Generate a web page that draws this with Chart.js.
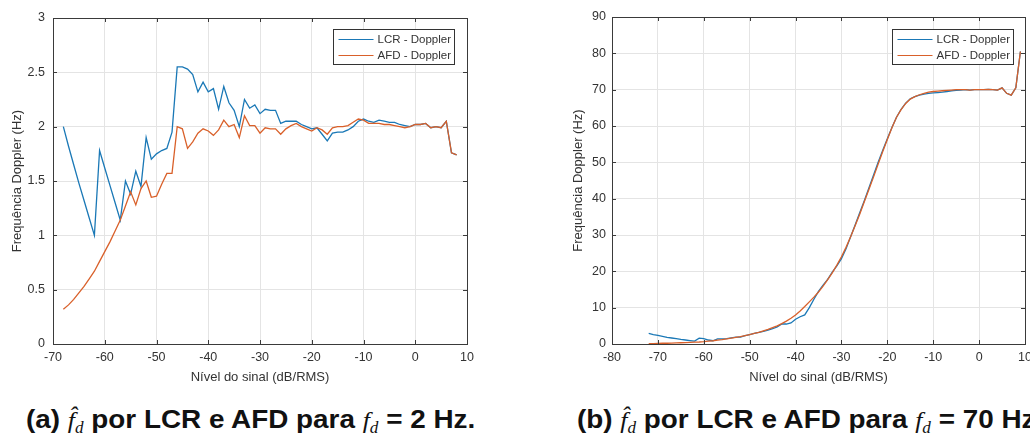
<!DOCTYPE html>
<html>
<head>
<meta charset="utf-8">
<script src="https://cdn.jsdelivr.net/npm/chart.js@4"></script>
<style>
  html, body { margin: 0; padding: 0; background: #fff; }
  body { width: 1030px; height: 433px; overflow: hidden; position: relative; }
  canvas { position: absolute; top: 0; }
  #cA { left: 0; }
  #cB { left: 540px; }
  .cap {
    position: absolute; top: 406px; white-space: nowrap;
    font: bold 26px/26px "Liberation Sans", Arial, sans-serif; color: #111;
    transform-origin: 0 0;
  }
  .m { font: italic normal 24px/26px "Liberation Serif", "DejaVu Serif", serif; }
  .m sub { font-size: 16px; vertical-align: -5px; line-height: 0; }
  #capA { left: 26px; }
  #capB { left: 577px; }
</style>
</head>
<body>
<canvas id="cA" width="490" height="392"></canvas>
<canvas id="cB" width="500" height="392"></canvas>
<div class="cap" id="capA">(a) <span class="m">f&#770;<sub>d</sub></span> por LCR e AFD para <span class="m">f<sub>d</sub></span> = 2 Hz.</div>
<div class="cap" id="capB">(b) <span class="m">f&#770;<sub>d</sub></span> por LCR e AFD para <span class="m">f<sub>d</sub></span> = 70 Hz.</div>
<script>
// (a) fd = 2 Hz
const levelA = [-68,-67,-66,-65,-64,-63,-62,-61,-60,-59,-58,-57,-56,-55,-54,-53,-52,-51,-50,-49,
  -48,-47,-46,-45,-44,-43,-42,-41,-40,-39,-38,-37,-36,-35,-34,-33,-32,-31,-30,-29,
  -28,-27,-26,-25,-24,-23,-22,-21,-20,-19,-18,-17,-16,-15,-14,-13,-12,-11,-10,-9,
  -8,-7,-6,-5,-4,-3,-2,-1,0,1,2,3,4,5,6,7,8];
const lcrA = [2.00,1.82,1.65,1.48,1.32,1.16,1.00,1.78,1.62,1.46,1.30,1.14,1.50,1.38,1.59,1.45,1.90,1.70,1.75,1.78,
  1.80,1.95,2.55,2.55,2.53,2.48,2.32,2.41,2.32,2.35,2.16,2.37,2.22,2.15,2.00,2.25,2.17,2.20,2.12,2.16,
  2.15,2.15,2.03,2.05,2.05,2.05,2.02,2.00,1.98,1.99,1.93,1.87,1.94,1.95,1.95,1.97,2.00,2.05,2.07,2.05,
  2.04,2.06,2.05,2.04,2.04,2.02,2.01,2.00,2.02,2.02,2.03,1.99,2.00,1.99,2.05,1.76,1.74];
const afdA = [0.32,0.36,0.41,0.47,0.53,0.60,0.67,0.76,0.85,0.94,1.04,1.14,1.27,1.40,1.28,1.43,1.50,1.35,1.36,1.47,
  1.57,1.57,2.00,1.98,1.80,1.86,1.94,1.98,1.96,1.92,1.97,2.06,2.00,2.02,1.90,2.10,2.01,2.01,1.94,1.99,
  1.98,1.98,1.93,1.98,2.01,2.03,2.00,1.98,1.96,1.99,1.97,1.93,1.99,2.00,2.00,2.01,2.04,2.07,2.06,2.03,
  2.03,2.03,2.02,2.02,2.01,2.00,1.99,2.00,2.02,2.02,2.03,1.99,2.00,1.99,2.05,1.76,1.74];

// (b) fd = 70 Hz
const levelB = [-72,-71,-70,-69,-68,-67,-66,-65,-64,-63,-62,-61,-60,-59,-58,-57,-56,-55,-54,-53,
  -52,-51,-50,-49,-48,-47,-46,-45,-44,-43,-42,-41,-40,-39,-38,-37,-36,-35,-34,-33,
  -32,-31,-30,-29,-28,-27,-26,-25,-24,-23,-22,-21,-20,-19,-18,-17,-16,-15,-14,-13,
  -12,-11,-10,-9,-8,-7,-6,-5,-4,-3,-2,-1,0,1,2,3,4,5,6,7,8,9];
const lcrB = [2.9,2.6,2.35,2.1,1.85,1.65,1.45,1.25,1.1,0.95,0.8,1.6,1.5,1.1,0.9,1.4,1.4,1.5,1.7,1.9,
  1.9,2.3,2.6,2.9,3.2,3.5,3.8,4.2,4.7,5.5,5.5,5.8,6.8,7.5,8.0,10.0,12.3,14.5,16.2,17.8,
  19.8,21.5,23.5,26.2,29.5,32.8,36.2,39.5,43.0,46.5,50.0,53.3,56.5,59.6,62.4,64.6,66.3,67.5,68.1,68.5,
  68.8,69.0,69.1,69.2,69.3,69.5,69.7,69.8,69.9,70.0,69.9,70.0,70.0,70.0,70.1,70.0,69.9,70.5,69.0,68.5,70.5,80.5];
const afdB = [0.1,0.1,0.15,0.2,0.2,0.25,0.3,0.35,0.4,0.45,0.5,0.55,0.65,0.8,0.9,1.05,1.2,1.4,1.6,1.8,
  2.0,2.3,2.6,2.9,3.2,3.6,4.0,4.5,5.0,5.6,6.3,7.1,8.0,9.1,10.3,11.6,12.9,14.3,15.9,17.7,
  19.6,21.7,24.0,26.6,29.5,32.6,35.8,39.2,42.6,46.0,49.5,53.0,56.3,59.5,62.4,64.5,66.2,67.4,68.1,68.6,
  69.0,69.3,69.5,69.6,69.7,69.8,69.9,70.0,70.0,70.0,69.9,70.0,70.0,70.0,70.1,70.0,69.9,70.5,69.0,68.5,70.5,80.5];

const seriesNames = ['LCR - Doppler', 'AFD - Doppler'];
const seriesColors = ['#1a78b6', '#d9602a'];
const FONT = '"Liberation Sans", Arial, sans-serif';
const INK = '#333333';

function pts(xs, ys) { return xs.map((x, i) => ({x: x, y: ys[i]})); }

// box round the axes, MATLAB style inward ticks
const frame = {
  id: 'frame',
  afterDraw(chart) {
    const {ctx, chartArea: a, scales: {x, y}} = chart;
    ctx.save();
    ctx.strokeStyle = '#3a3a3a';
    ctx.lineWidth = 1;
    ctx.beginPath();
    x.ticks.forEach(t => {
      const px = Math.round(x.getPixelForValue(t.value)) + 0.5;
      ctx.moveTo(px, a.bottom); ctx.lineTo(px, a.bottom - 4);
      ctx.moveTo(px, a.top); ctx.lineTo(px, a.top + 4);
    });
    y.ticks.forEach(t => {
      const py = Math.round(y.getPixelForValue(t.value)) + 0.5;
      ctx.moveTo(a.left, py); ctx.lineTo(a.left + 4, py);
      ctx.moveTo(a.right, py); ctx.lineTo(a.right - 4, py);
    });
    ctx.stroke();
    ctx.strokeRect(Math.round(a.left) + 0.5, Math.round(a.top) + 0.5,
      Math.round(a.right - a.left), Math.round(a.bottom - a.top));
    ctx.restore();
  }
};

// legend box in the top right corner of the axes
const boxLegend = {
  id: 'boxLegend',
  afterDraw(chart, args, opts) {
    const {ctx, chartArea: a} = chart;
    const w = 121, h = 35;
    const left = Math.round(a.right - opts.right - w) + 0.5;
    const top = Math.round(a.top + opts.top) + 0.5;
    ctx.save();
    ctx.fillStyle = '#fff';
    ctx.fillRect(left, top, w, h);
    ctx.strokeStyle = '#333';
    ctx.lineWidth = 1;
    ctx.strokeRect(left, top, w, h);
    ctx.font = '11.5px ' + FONT;
    ctx.textBaseline = 'middle';
    ctx.fillStyle = INK;
    chart.data.datasets.forEach((ds, i) => {
      const yy = top + 10 + i * 16;
      ctx.strokeStyle = ds.borderColor;
      ctx.lineWidth = 1.2;
      ctx.beginPath();
      ctx.moveTo(left + 5, yy); ctx.lineTo(left + 40, yy);
      ctx.stroke();
      ctx.fillText(ds.label, left + 44, yy + 0.5);
    });
    ctx.restore();
  }
};

function makeChart(id, xs, lcr, afd, o) {
  return new Chart(document.getElementById(id), {
    type: 'line',
    data: {
      datasets: [
        {label: seriesNames[0], data: pts(xs, lcr), borderColor: seriesColors[0], order: 1},
        {label: seriesNames[1], data: pts(xs, afd), borderColor: seriesColors[1], order: 0}
      ]
    },
    options: {
      responsive: false,
      animation: false,
      events: [],
      layout: {padding: {top: o.top, right: o.right, left: 0, bottom: 0}},
      elements: {
        line: {borderWidth: 1.3, tension: 0, fill: false},
        point: {radius: 0}
      },
      plugins: {
        legend: {display: false},
        tooltip: {enabled: false},
        boxLegend: {right: o.legRight, top: o.legTop}
      },
      scales: {
        x: {
          type: 'linear',
          min: o.xmin, max: o.xmax,
          afterFit: s => { s.height = 392 - o.bottom; },
          ticks: {stepSize: 10, padding: 6, color: INK, font: {family: FONT, size: 12.5}, maxRotation: 0},
          grid: {color: '#e4e4e4', drawTicks: false},
          border: {display: false},
          title: {display: true, text: 'Nível do sinal (dB/RMS)', color: INK,
            font: {family: FONT, size: 13, lineHeight: 1.2}, padding: {top: 0, bottom: 7}}
        },
        y: {
          min: 0, max: o.ymax,
          afterFit: s => { s.width = o.left; },
          ticks: {stepSize: o.ystep, padding: o.ypad, color: INK, font: {family: FONT, size: 12.5},
            callback: v => String(Math.round(v * 100) / 100)},
          grid: {color: '#e4e4e4', drawTicks: false},
          border: {display: false},
          title: {display: true, text: 'Frequência Doppler (Hz)', color: INK,
            font: {family: FONT, size: 13, lineHeight: 1.2}, padding: {top: o.titlePad, bottom: 0}}
        }
      }
    },
    plugins: [frame, boxLegend]
  });
}

makeChart('cA', levelA, lcrA, afdA, {
  top: 18, right: 23, bottom: 344, left: 53, xmin: -70, xmax: 10, ymax: 3, ystep: 0.5,
  ypad: 8, titlePad: 10, legRight: 13, legTop: 11
});
makeChart('cB', levelB, lcrB, afdB, {
  top: 17, right: 15, bottom: 344, left: 72, xmin: -80, xmax: 10, ymax: 90, ystep: 10,
  ypad: 6, titlePad: 31, legRight: 12, legTop: 12
});

// squeeze captions to the width seen in the figure
const capA = document.getElementById('capA');
const k = 449 / capA.offsetWidth;
capA.style.transform = 'scaleX(' + k + ')';
document.getElementById('capB').style.transform = 'scaleX(' + k + ')';
</script>
</body>
</html>
